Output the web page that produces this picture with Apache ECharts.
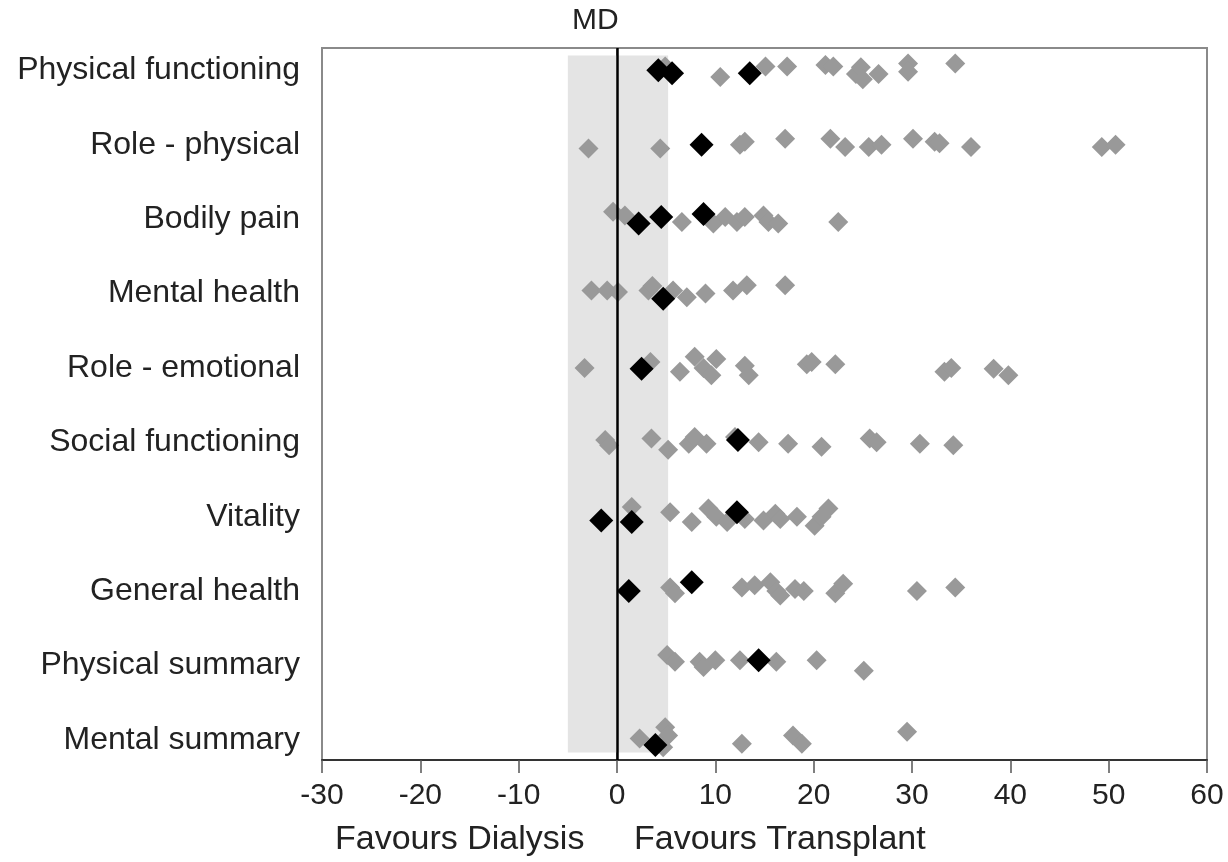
<!DOCTYPE html>
<html>
<head>
<meta charset="utf-8">
<script src="https://cdn.jsdelivr.net/npm/echarts@6/dist/echarts.min.js"></script>
<style>
  html, body { margin: 0; padding: 0; background: #fff; }
  #chart { width: 1228px; height: 862px; }
</style>
</head>
<body>
<div id="chart"></div>
<script>
// rows, top to bottom
var categories = [
  'Physical functioning', 'Role - physical', 'Bodily pain', 'Mental health',
  'Role - emotional', 'Social functioning', 'Vitality', 'General health',
  'Physical summary', 'Mental summary'
]
var xTicks = [-30, -20, -10, 0, 10, 20, 30, 40, 50, 60]

// individual studies: [MD, vertical jitter within row]
var grayPoints = [
  [[4.9, -0.05], [10.5, 0.09], [15.1, -0.05], [17.3, -0.05], [21.2, -0.07], [22.0, -0.05], [24.3, 0.05], [24.8, -0.04], [25.0, 0.12], [26.6, 0.05], [29.6, -0.09], [29.6, 0.02], [34.4, -0.09]],
  [[-2.9, 0.05], [4.4, 0.05], [12.5, 0.0], [13.0, -0.04], [17.1, -0.08], [21.7, -0.08], [23.2, 0.03], [25.6, 0.03], [26.9, 0.0], [30.1, -0.08], [32.3, -0.04], [32.8, -0.02], [36.0, 0.03], [49.3, 0.03], [50.7, 0.0]],
  [[-0.4, -0.1], [0.8, -0.05], [6.6, 0.04], [9.8, 0.06], [11.0, -0.03], [12.2, 0.04], [13.0, -0.03], [14.9, -0.05], [15.4, 0.04], [16.4, 0.06], [22.5, 0.04]],
  [[-2.6, -0.04], [-1.0, -0.04], [0.1, -0.02], [3.2, -0.04], [3.6, -0.1], [5.7, -0.04], [7.1, 0.05], [9.0, 0.0], [11.8, -0.04], [13.2, -0.11], [17.1, -0.11]],
  [[-3.3, 0.0], [3.4, -0.08], [6.4, 0.05], [7.9, -0.15], [8.8, 0.0], [9.6, 0.1], [10.1, -0.12], [13.0, -0.03], [13.4, 0.1], [19.3, -0.05], [19.8, -0.08], [22.2, -0.05], [33.3, 0.05], [34.0, 0.0], [38.3, 0.01], [39.8, 0.1]],
  [[-1.2, -0.03], [-0.8, 0.04], [3.5, -0.05], [5.2, 0.1], [7.3, 0.02], [7.9, -0.07], [9.1, 0.02], [12.0, -0.07], [14.4, 0.0], [17.4, 0.02], [20.8, 0.06], [25.7, -0.05], [26.4, 0.0], [30.8, 0.02], [34.2, 0.04]],
  [[1.5, -0.13], [5.4, -0.06], [7.6, 0.07], [9.3, -0.11], [10.1, 0.0], [11.2, 0.07], [13.0, 0.03], [14.9, 0.05], [16.1, -0.04], [16.6, 0.03], [18.3, 0.0], [20.1, 0.12], [20.8, 0.0], [21.5, -0.11]],
  [[5.4, -0.05], [5.9, 0.03], [12.7, -0.05], [14.0, -0.08], [15.6, -0.12], [16.2, 0.0], [16.6, 0.06], [18.1, -0.03], [19.0, 0.0], [22.2, 0.03], [23.0, -0.1], [30.5, 0.0], [34.4, -0.05]],
  [[5.1, -0.14], [5.9, -0.05], [8.4, -0.05], [8.8, 0.02], [10.0, -0.07], [12.5, -0.07], [16.2, -0.05], [20.3, -0.07], [25.1, 0.07]],
  [[2.3, -0.02], [4.9, -0.17], [5.2, -0.06], [4.7, 0.1], [12.7, 0.05], [17.9, -0.06], [18.8, 0.05], [29.5, -0.11]]
]
// pooled estimates
var blackPoints = [
  [[4.2, 0.0], [5.6, 0.04], [13.5, 0.04]],
  [[8.6, 0.0]],
  [[2.2, 0.06], [4.5, -0.03], [8.8, -0.07]],
  [[4.7, 0.07]],
  [[2.5, 0.01]],
  [[12.3, -0.03]],
  [[-1.6, 0.05], [1.5, 0.07], [12.2, -0.06]],
  [[1.2, 0.0], [7.6, -0.12]],
  [[14.4, -0.07]],
  [[3.9, 0.07]]
]
// shaded band around zero
var bandFrom = -5
var bandTo = 5.2

function toXY(rows) {
  var out = []
  rows.forEach(function (pts, i) {
    pts.forEach(function (p) { out.push([p[0], i + p[1]]) })
  })
  return out
}

var chart = echarts.init(document.getElementById('chart'))
var textColor = '#222'
var font = '"Liberation Sans", Arial, Helvetica, sans-serif'
var rowIdx = categories.map(function (c, i) { return i })

chart.setOption({
  animation: false,
  textStyle: { fontFamily: font },
  grid: {
    left: 322, right: 21, top: 48, bottom: 102,
    show: true, borderColor: '#8a8a8a', borderWidth: 2, backgroundColor: 'transparent'
  },
  xAxis: {
    type: 'value',
    min: -30, max: 60, interval: 10,
    splitLine: { show: false },
    axisLine: { onZero: false, lineStyle: { color: '#333', width: 2 } },
    axisTick: { length: 13, lineStyle: { color: '#555', width: 1.5 } },
    axisLabel: { fontSize: 30, color: textColor, margin: 21, fontFamily: font,
      customValues: xTicks }
  },
  yAxis: {
    type: 'value',
    inverse: true,
    min: -0.3, max: 9.27,
    splitLine: { show: false },
    axisLine: { lineStyle: { color: '#8a8a8a', width: 2 } },
    axisTick: { length: 15, customValues: rowIdx,
      lineStyle: { color: '#8a8a8a', width: 1.5 } },
    axisLabel: {
      customValues: rowIdx,
      formatter: function (v) { return categories[Math.round(v)] },
      fontSize: 32, color: textColor, margin: 22, fontFamily: font
    }
  },
  graphic: [
    { type: 'text', left: 572, top: 6, style: { text: 'MD', font: '30px ' + font, fill: textColor } },
    { type: 'text', left: 335, top: 823, style: { text: 'Favours Dialysis', font: '34px ' + font, fill: textColor } },
    { type: 'text', left: 634, top: 823, style: { text: 'Favours Transplant', font: '34px ' + font, fill: textColor } }
  ],
  series: [
    {
      type: 'scatter', data: [], z: 1, silent: true,
      markArea: {
        silent: true,
        itemStyle: { color: '#e4e4e4' },
        data: [[{ xAxis: bandFrom, yAxis: -0.2 }, { xAxis: bandTo, yAxis: 9.17 }]]
      }
    },
    {
      name: 'Studies', type: 'scatter', symbol: 'diamond', symbolSize: [20, 20], z: 3,
      itemStyle: { color: '#999999', opacity: 1 },
      data: toXY(grayPoints)
    },
    {
      name: 'Pooled', type: 'scatter', symbol: 'diamond', symbolSize: [24, 24], z: 4,
      itemStyle: { color: '#000000', opacity: 1 },
      data: toXY(blackPoints)
    },
    {
      type: 'scatter', data: [], z: 5, silent: true,
      markLine: {
        silent: true, symbol: 'none', label: { show: false },
        lineStyle: { color: '#000', width: 2.5, type: 'solid' },
        data: [{ xAxis: 0 }]
      }
    }
  ]
})
</script>
</body>
</html>
